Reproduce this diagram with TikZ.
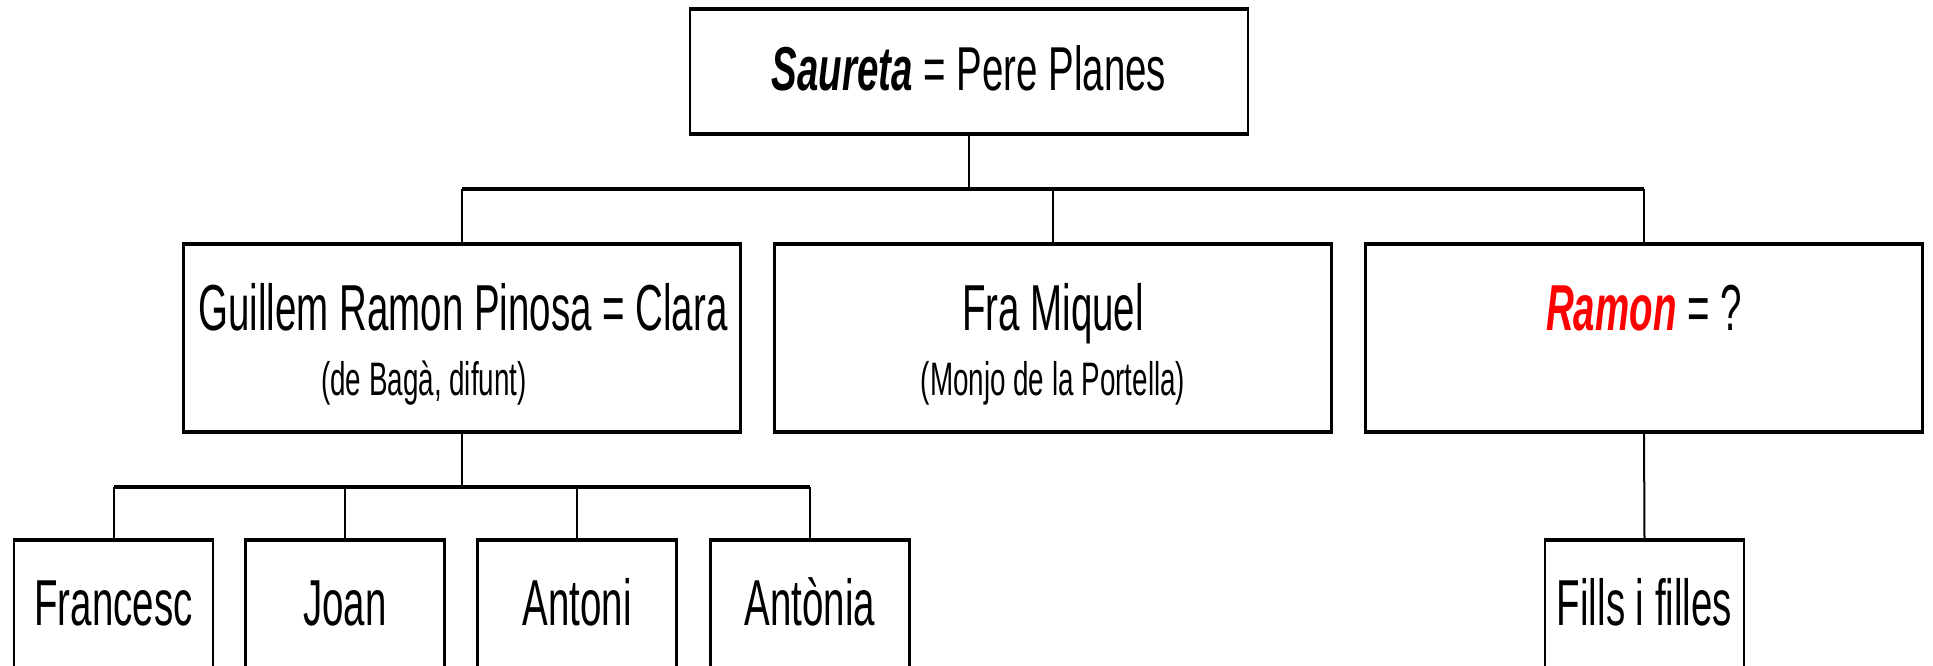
\documentclass[tikz,border=0pt]{standalone}
\usepackage{fontspec}
\setmainfont[FakeStretch=0.592]{Liberation Sans}
\newfontfamily\topfont[FakeStretch=0.62]{Liberation Sans}
\definecolor{ramonred}{RGB}{255,0,0}
\begin{document}
\begin{tikzpicture}[x=1pt,y=-1pt,
  box/.style={draw=black,line width=2.2pt,inner sep=0pt,fill=white},
  bigbox/.style={box,minimum width=557pt,minimum height=186pt},
  topbox/.style={box,minimum width=558pt,minimum height=124pt},
  kidbox/.style={box,minimum width=199pt,minimum height=126.5pt},
  edgeline/.style={line width=3.6pt},
  lbl/.style={anchor=base,inner sep=0pt,font=\fontsize{65}{70}\selectfont},
  toplbl/.style={anchor=base,inner sep=0pt,font=\topfont\fontsize{62}{66}\selectfont},
  sublbl/.style={anchor=base,inner sep=0pt,font=\fontsize{47}{52}\selectfont},
  hline/.style={line width=3.6pt},
  vline/.style={line width=2pt}]
\useasboundingbox (0,0) rectangle (1933,666);
\clip (0,0) rectangle (1933,666);
% boxes
\node[topbox] (top) at (969,71.5) {};
\node[bigbox] (g) at (462,338) {};
\node[bigbox] (m) at (1053,338) {};
\node[bigbox] (r) at (1644,338) {};
\node[kidbox] (f) at (113.5,604.25) {};
\node[kidbox] (j) at (345,604.25) {};
\node[kidbox] (a) at (577,604.25) {};
\node[kidbox] (an) at (810,604.25) {};
\node[kidbox] (fi) at (1644.5,604.25) {};
% thick top/bottom edges
\foreach \n in {top,g,m,r,f,j,a,an,fi}{
  \draw[edgeline] (\n.north west) -- (\n.north east);
  \draw[edgeline] (\n.south west) -- (\n.south east);
}
% texts
\node[toplbl] (ttop) at (969,91) {\textbf{\textit{Saureta}} = Pere Planes};
\node[lbl] (tg) at (463,330) {Guillem Ramon Pinosa = Clara};
\node[sublbl] (sg) at (424,395) {(de Bagà, difunt)};
\node[lbl] (tm) at (1053,330) {Fra Miquel};
\node[sublbl] (sm) at (1053,395) {(Monjo de la Portella)};
\node[lbl] (tr) at (1644,330) {\textcolor{ramonred}{\textbf{\textit{Ramon}}} = ?};
\node[lbl] (tf) at (113.5,625) {Francesc};
\node[lbl] (tj) at (345,625) {Joan};
\node[lbl] (ta) at (577,625) {Antoni};
\node[lbl] (tan) at (810,625) {Antònia};
\node[lbl] (tfi) at (1644.5,625) {Fills i filles};
% connectors
\coordinate (bus1) at (969,189);
\coordinate (bus2) at (462,487);
\draw[vline] (top.south) -- (bus1);
\draw[hline] (g.north |- bus1) -- (r.north |- bus1);
\draw[vline] (g.north |- bus1) -- (g.north);
\draw[vline] (m.north |- bus1) -- (m.north);
\draw[vline] (r.north |- bus1) -- (r.north);
\draw[vline] (g.south) -- (bus2);
\draw[hline] (f.north |- bus2) -- (an.north |- bus2);
\draw[vline] (f.north |- bus2) -- (f.north);
\draw[vline] (j.north |- bus2) -- (j.north);
\draw[vline] (a.north |- bus2) -- (a.north);
\draw[vline] (an.north |- bus2) -- (an.north);
\draw[vline] (r.south) -- (fi.north);
\end{tikzpicture}
\end{document}
